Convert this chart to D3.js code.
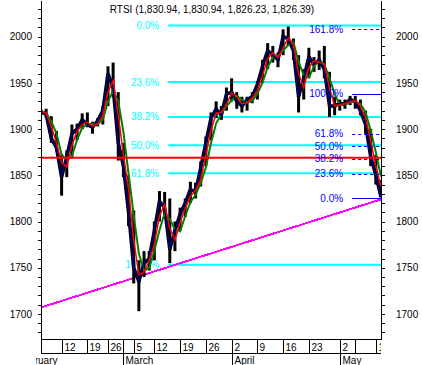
<!DOCTYPE html>
<html>
<head>
<meta charset="utf-8">
<script src="https://cdn.jsdelivr.net/npm/d3@7"></script>
<style>
  body { margin: 0; background: #fff; }
  text { font-family: "Liberation Sans", Arial, sans-serif; font-size: 10px; }
</style>
</head>
<body>
<div id="chart"></div>
<script>
// trading days shown on the chart
var dates = [
  "2007-02-06", "2007-02-07", "2007-02-08", "2007-02-09",
  "2007-02-12", "2007-02-13", "2007-02-14", "2007-02-15", "2007-02-16",
  "2007-02-19", "2007-02-20", "2007-02-21", "2007-02-22",
  "2007-02-26", "2007-02-27", "2007-02-28", "2007-03-01", "2007-03-02",
  "2007-03-05", "2007-03-06", "2007-03-07", "2007-03-09",
  "2007-03-12", "2007-03-13", "2007-03-14", "2007-03-15", "2007-03-16",
  "2007-03-19", "2007-03-20", "2007-03-21", "2007-03-22", "2007-03-23",
  "2007-03-26", "2007-03-27", "2007-03-28", "2007-03-29", "2007-03-30",
  "2007-04-02", "2007-04-03", "2007-04-04", "2007-04-05", "2007-04-06",
  "2007-04-09", "2007-04-10", "2007-04-11", "2007-04-12", "2007-04-13",
  "2007-04-16", "2007-04-17", "2007-04-18", "2007-04-19", "2007-04-20",
  "2007-04-23", "2007-04-24", "2007-04-25", "2007-04-26", "2007-04-27", "2007-04-28",
  "2007-05-02", "2007-05-03", "2007-05-04",
  "2007-05-07", "2007-05-08", "2007-05-10", "2007-05-11",
  "2007-05-14", "2007-05-15"
];

var highs = [
  1921, 1922, 1914, 1898,
  1872, 1877, 1905, 1906, 1917,
  1918, 1908, 1912, 1925,
  1968, 1972, 1940, 1885, 1850,
  1812, 1758, 1768, 1768,
  1800, 1833, 1832, 1825, 1800,
  1815, 1825, 1843, 1842, 1865,
  1892, 1918, 1930, 1925, 1945,
  1955, 1940, 1935, 1935, 1940,
  1952, 1975, 1993, 1990, 1983,
  2008, 2011, 1998, 1980, 1965,
  1988, 1978, 1985, 1990, 1962, 1935,
  1932, 1932, 1936,
  1936, 1932, 1920, 1900,
  1872, 1845
];

var lows = [
  1915, 1912, 1885, 1876,
  1828, 1848, 1868, 1888, 1900,
  1902, 1895, 1903, 1905,
  1925, 1935, 1866, 1848, 1795,
  1733, 1703, 1740, 1747,
  1758, 1800, 1805, 1755, 1768,
  1790, 1805, 1820, 1825, 1838,
  1860, 1888, 1912, 1910, 1920,
  1930, 1922, 1918, 1920, 1928,
  1932, 1950, 1965, 1972, 1967,
  1980, 1990, 1975, 1918, 1932,
  1955, 1962, 1964, 1955, 1913, 1915,
  1920, 1922, 1926,
  1922, 1915, 1895, 1860,
  1840, 1826.23
];

var closes = [
  1919, 1916, 1890, 1880,
  1848, 1870, 1895, 1900, 1910,
  1905, 1902, 1909, 1920,
  1960, 1945, 1885, 1860, 1810,
  1750, 1735, 1755, 1760,
  1790, 1822, 1815, 1770, 1790,
  1808, 1820, 1835, 1832, 1858,
  1885, 1912, 1922, 1915, 1938,
  1940, 1930, 1925, 1932, 1935,
  1948, 1968, 1985, 1980, 1975,
  2000, 1998, 1985, 1935, 1955,
  1978, 1970, 1975, 1965, 1925, 1925,
  1928, 1927, 1932,
  1930, 1920, 1905, 1870,
  1850, 1826.39
];

// last bar: open, high, low, close
var lastBar = [1830.94, 1830.94, 1826.23, 1826.39];

// x axis ticks
var dayTicks = ["2007-02-12", "2007-02-19", "2007-02-26", "2007-03-05", "2007-03-12", "2007-03-19",
  "2007-03-26", "2007-04-02", "2007-04-09", "2007-04-16", "2007-04-23", "2007-05-02", "2007-05-07", "2007-05-14"];
var dayLabels = ["12", "19", "26", "5", "12", "19", "26", "2", "9", "16", "23", "2", "", "14"];
var monthStarts = [-5, "2007-03-01", "2007-04-02", "2007-05-02"];
var monthLabels = ["February", "March", "April", "May"];

// fibonacci retracement (cyan), from the March low to the April high
var fibLevels = [0, 23.6, 38.2, 50.0, 61.8, 100];
var fibHigh = 2012, fibLow = 1753.3, fibStart = 24.7;

// fibonacci extension (blue), right side
var fib2Levels = [0, 23.6, 38.2, 50.0, 61.8, 100, 161.8];
var fib2Base = 1825, fib2Top = 1938, fib2Start = 60.4;

// horizontal support line (red) and trendline (magenta)
var supportLevel = 1869;
var trendIdx = [0, 66];
var trendVals = [1707, 1824];

var svgWidth = 422, svgHeight = 365;
var plot = { left: 41, right: 381, top: 0, bottom: 339 };

var svg = d3.select("#chart").append("svg")
  .attr("width", svgWidth)
  .attr("height", svgHeight);

var idx = function(d) { return typeof d === "number" ? d : dates.indexOf(d); };

var x = d3.scaleLinear()
  .domain([0, dates.length - 1])
  .range([plot.left, plot.right]);

var y = d3.scaleLinear()
  .domain([1672.9, 2039.7])
  .range([plot.bottom, plot.top]);

// moving averages of the close
function movingAvg(vals, n) {
  return vals.map(function(v, i) {
    return d3.mean(vals.slice(Math.max(0, i - n + 1), i + 1));
  });
}
var maFast = movingAvg(closes, 2);
var maSlow = movingAvg(closes, 3);

svg.append("defs").append("clipPath").attr("id", "plotclip")
  .append("rect").attr("x", plot.left).attr("y", 0)
  .attr("width", plot.right - plot.left).attr("height", plot.bottom);
svg.append("defs").append("clipPath").attr("id", "axisclip")
  .append("rect").attr("x", 36).attr("y", plot.bottom)
  .attr("width", plot.right - 36).attr("height", svgHeight - plot.bottom);

// title
svg.append("text")
  .attr("x", 212)
  .attr("y", 13)
  .attr("text-anchor", "middle")
  .text("RTSI (" + lastBar.map(d3.format(",.2f")).join(", ") + ")");

// cyan fib retracement
var fibGroup = svg.append("g");
fibLevels.forEach(function(p) {
  var v = fibHigh - (fibHigh - fibLow) * p / 100;
  fibGroup.append("line")
    .attr("x1", x(fibStart)).attr("x2", plot.right)
    .attr("y1", y(v)).attr("y2", y(v))
    .attr("stroke", "#00ffff").attr("stroke-width", 2);
  fibGroup.append("text")
    .attr("x", x(fibStart) - 9)
    .attr("y", y(v))
    .attr("dy", "0.35em")
    .attr("text-anchor", "end")
    .attr("fill", "#00ffff")
    .text(p.toFixed(1) + "%");
});

// trendline
svg.append("line")
  .attr("clip-path", "url(#plotclip)")
  .attr("x1", x(trendIdx[0])).attr("y1", y(trendVals[0]))
  .attr("x2", x(trendIdx[1])).attr("y2", y(trendVals[1]))
  .attr("stroke", "#ff00ff").attr("stroke-width", 2)
  .attr("shape-rendering", "crispEdges");

// price bars
var priceGroup = svg.append("g").attr("clip-path", "url(#plotclip)");
priceGroup.selectAll("rect")
  .data(closes)
  .enter()
  .append("rect")
  .attr("x", (d, i) => x(i) - 1.5)
  .attr("width", 3)
  .attr("y", (d, i) => y(highs[i]))
  .attr("height", (d, i) => Math.max(1, y(lows[i]) - y(highs[i])))
  .attr("fill", "#000");

var line = d3.line().x((d, i) => x(i)).y(d => y(d));

priceGroup.append("path").datum(closes)
  .attr("d", line).attr("fill", "none")
  .attr("stroke", "#000").attr("stroke-width", 3.5);
priceGroup.append("path").datum(maSlow)
  .attr("d", line).attr("fill", "none")
  .attr("stroke", "#008000").attr("stroke-width", 2);
priceGroup.append("path").datum(closes)
  .attr("d", line).attr("fill", "none")
  .attr("stroke", "#000080").attr("stroke-width", 1.5);
priceGroup.append("path").datum(maFast)
  .attr("d", line).attr("fill", "none")
  .attr("stroke", "#ff0000").attr("stroke-width", 1.5);

// red support line
svg.append("line")
  .attr("x1", plot.left).attr("x2", plot.right)
  .attr("y1", y(supportLevel)).attr("y2", y(supportLevel))
  .attr("stroke", "#ff0000").attr("stroke-width", 2);

// blue fib extension
var fib2Group = svg.append("g");
fib2Levels.forEach(function(p) {
  var v = fib2Base + (fib2Top - fib2Base) * p / 100;
  var solid = (p === 0 || p === 100);
  fib2Group.append("line")
    .attr("x1", x(fib2Start)).attr("x2", plot.right)
    .attr("y1", Math.round(y(v)) + 0.5).attr("y2", Math.round(y(v)) + 0.5)
    .attr("stroke", "#0000ff").attr("stroke-width", 1)
    .attr("stroke-dasharray", solid ? null : "3,3");
  fib2Group.append("text")
    .attr("x", x(fib2Start) - 9)
    .attr("y", y(v))
    .attr("dy", "0.35em")
    .attr("text-anchor", "end")
    .attr("fill", "#0000ff")
    .text(p.toFixed(1) + "%");
});

// y axes
var yTicks = d3.range(1680, 2040, 10);
var fmtY = d => d % 50 === 0 ? d : "";

var leftAxis = svg.append("g")
  .attr("transform", `translate(${plot.left}, 0)`)
  .call(d3.axisLeft(y).tickValues(yTicks).tickFormat(fmtY).tickSize(3).tickSizeOuter(0).tickPadding(6));

var rightAxis = svg.append("g")
  .attr("transform", `translate(${plot.right}, 0)`)
  .call(d3.axisRight(y).tickValues(yTicks).tickFormat(fmtY).tickSize(4).tickSizeOuter(0).tickPadding(11));

svg.selectAll(".tick text").attr("font-size", "10px").attr("font-family", null).attr("fill", "#000");
svg.selectAll(".domain, .tick line").attr("stroke", "#000").attr("shape-rendering", "crispEdges");

// x axis: two rows, days and months
var xAxis = svg.append("g").attr("clip-path", "url(#axisclip)").attr("shape-rendering", "crispEdges");
xAxis.append("line")
  .attr("x1", plot.left).attr("x2", plot.right)
  .attr("y1", plot.bottom + 0.5).attr("y2", plot.bottom + 0.5).attr("stroke", "#000");
xAxis.append("line")
  .attr("x1", plot.left).attr("x2", plot.right)
  .attr("y1", plot.bottom + 14.5).attr("y2", plot.bottom + 14.5).attr("stroke", "#000");
xAxis.append("line")
  .attr("x1", plot.left + 0.5).attr("x2", plot.left + 0.5)
  .attr("y1", plot.bottom).attr("y2", plot.bottom + 14).attr("stroke", "#000");

dayTicks.forEach(function(d, i) {
  var xp = Math.round(x(idx(d))) + 0.5;
  xAxis.append("line")
    .attr("x1", xp).attr("x2", xp)
    .attr("y1", plot.bottom).attr("y2", plot.bottom + 14)
    .attr("stroke", "#000");
  xAxis.append("text")
    .attr("x", xp + 2)
    .attr("y", plot.bottom + 11.5)
    .text(dayLabels[i]);
});

monthStarts.forEach(function(d, i) {
  var xp = Math.round(x(idx(d))) + 0.5;
  xAxis.append("line")
    .attr("x1", xp).attr("x2", xp)
    .attr("y1", plot.bottom).attr("y2", svgHeight)
    .attr("stroke", "#000");
  xAxis.append("text")
    .attr("x", xp + 2)
    .attr("y", svgHeight - 1.5)
    .text(monthLabels[i]);
});
</script>
</body>
</html>
